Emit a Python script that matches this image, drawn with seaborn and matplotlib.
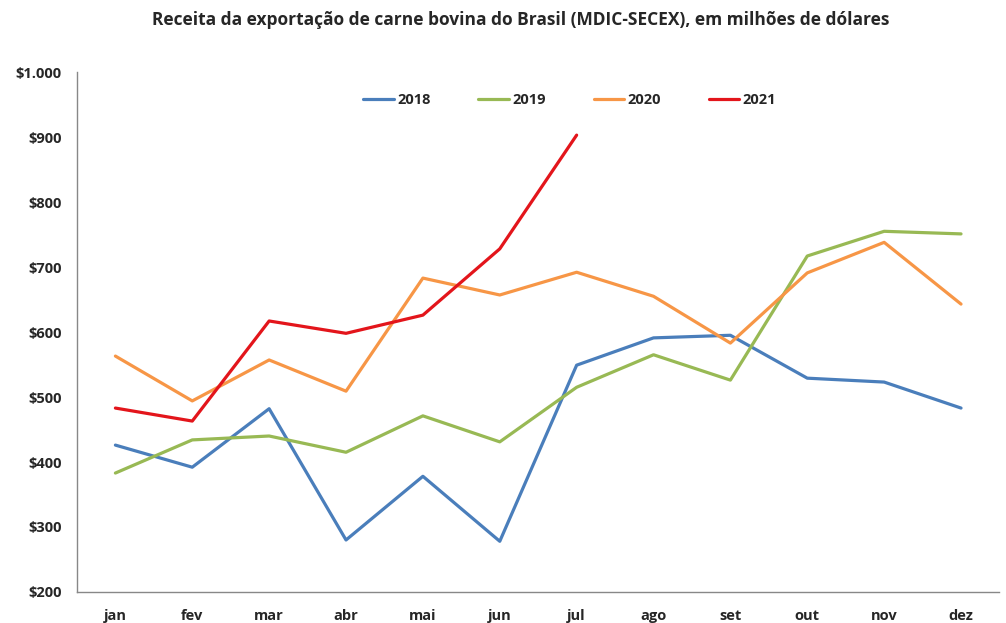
import pandas as pd
import matplotlib.pyplot as plt
import seaborn as sns

# Month labels (Portuguese) and yearly export revenue, US$ millions
months = ["jan", "fev", "mar", "abr", "mai", "jun", "jul", "ago", "set", "out", "nov", "dez"]
v2018 = [426, 392, 482, 280, 378, 278, 549, 591, 595, 529, 523, 483]
v2019 = [383, 434, 440, 415, 471, 431, 515, 565, 526, 717, 755, 751]
v2020 = [563, 494, 557, 509, 683, 657, 692, 655, 583, 691, 738, 643]
v2021 = [483, 463, 617, 598, 626, 728, 903]
years = ["2018", "2019", "2020", "2021"]
colors = ["#4A7EBB", "#98B954", "#F79646", "#E3151B"]
yticks = [200, 300, 400, 500, 600, 700, 800, 900, 1000]

# Long-form table for seaborn
rows = []
for year, vals in zip(years, [v2018, v2019, v2020, v2021]):
    for m, v in zip(months, vals):
        rows.append({"mes": m, "valor": v, "ano": year})
df = pd.DataFrame(rows)

sns.set_style("white")
plt.rcParams["font.family"] = ["Open Sans", "DejaVu Sans"]

fig = plt.figure(figsize=(10.06, 6.23), dpi=100)
ax = fig.add_axes([0.0765, 0.0498, 0.917, 0.8345])

sns.lineplot(data=df, x="mes", y="valor", hue="ano", hue_order=years,
             palette=dict(zip(years, colors)), linewidth=2.3, ax=ax, sort=False)

ax.set_xlim(-0.5, 11.5)
ax.set_ylim(200, 1000)
ax.set_yticks(yticks)
ax.set_yticklabels([f"${v:,}".replace(",", ".") for v in yticks],
                   fontsize=10.5, fontweight="bold")

# Category axis: ticks between months, labels centered
ax.set_xticks(range(len(months)))
ax.set_xticklabels(months, fontsize=10.5, fontweight="bold")
ax.set_xticks([i - 0.5 for i in range(len(months) + 1)], minor=True)
ax.tick_params(axis="x", which="major", length=0, pad=12)
ax.tick_params(axis="x", which="minor", length=5, color="#888888", direction="out")
ax.tick_params(axis="y", length=5, color="#888888", direction="out", pad=6)
ax.set_xlabel("")
ax.set_ylabel("")

for side in ["top", "right"]:
    ax.spines[side].set_visible(False)
for side in ["left", "bottom"]:
    ax.spines[side].set_color("#888888")
    ax.spines[side].set_linewidth(1)

leg = ax.legend(loc="upper center", bbox_to_anchor=(0.534, 0.985), ncol=4, frameon=False,
                handlelength=2.1, handletextpad=0.2, columnspacing=3.3,
                prop={"weight": "bold", "size": 10.5})

fig.suptitle("Receita da exportação de carne bovina do Brasil (MDIC-SECEX), em milhões de dólares",
             x=0.518, y=0.982, fontsize=12.5, fontweight="bold")

fig.savefig("out.png", dpi=100)
